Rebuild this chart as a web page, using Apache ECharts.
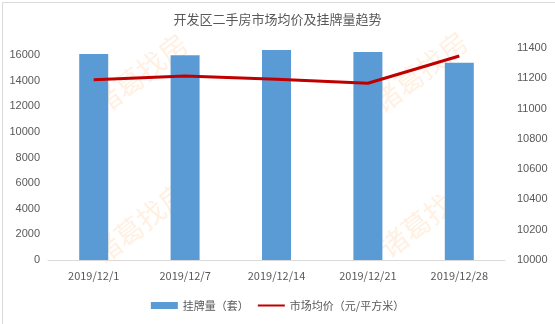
<!DOCTYPE html>
<html><head><meta charset="utf-8">
<script src="https://cdn.jsdelivr.net/npm/echarts@6/dist/echarts.min.js"></script>
<style>html,body{margin:0;padding:0;background:#fff}#c{width:555px;height:324px}</style>
</head><body><div id="c"></div>
<script>
const categories = ['2019/12/1','2019/12/7','2019/12/14','2019/12/21','2019/12/28'];
const listings = [16100, 16000, 16400, 16250, 15400];
const avgPrice = [11190, 11215, 11193, 11167, 11347];
const leftTicks = [0,2000,4000,6000,8000,10000,12000,14000,16000];
const rightTicks = [10000,10200,10400,10600,10800,11000,11200,11400];

const font = '"Microsoft YaHei","Noto Sans CJK SC",sans-serif';
const chart = echarts.init(document.getElementById('c'));
const wmPos = [[140,74],[420,72],[140,223],[427,217]];
chart.setOption({
  animation:false,
  title:{text:'开发区二手房市场均价及挂牌量趋势',left:'center',top:8,
    textStyle:{fontSize:13,fontWeight:'normal',color:'#595959',fontFamily:font}},
  graphic: [{type:'rect',left:0,top:0,z:-20,shape:{width:554,height:323},style:{fill:'none',stroke:'#d9d9d9',lineWidth:1}}]
    .concat(wmPos.map(p=>({type:'text',x:p[0],y:p[1],rotation:Math.PI*38/180,z:-10,
      style:{text:'诸葛找房',fill:'rgba(255,200,150,0.28)',font:'28px '+font,align:'center',verticalAlign:'middle'}}))),
  grid:{left:48,right:50,top:48,bottom:64},
  legend:{bottom:8,itemGap:8,itemWidth:27,itemHeight:7,
    textStyle:{fontSize:11,color:'#595959',fontFamily:font},
    data:[{name:'挂牌量（套）',icon:'rect'},{name:'市场均价（元/平方米）',itemStyle:{opacity:0}}]},
  xAxis:{type:'category',data:categories,
    axisLine:{lineStyle:{color:'#d9d9d9'}},axisTick:{show:false},
    axisLabel:{color:'#595959',fontSize:11,margin:10,fontFamily:font}},
  yAxis:[
    {type:'value',min:0,max:16560,interval:2000,splitLine:{show:false},
     axisLine:{show:false},axisTick:{show:false},
     axisLabel:{color:'#595959',fontSize:11,showMaxLabel:false,margin:8,
       formatter:v=>leftTicks.includes(v)?String(v):''}},
    {type:'value',min:10000,max:11400,interval:200,splitLine:{show:false},
     axisLine:{show:false},axisTick:{show:false},
     axisLabel:{color:'#595959',fontSize:11,margin:12,
       formatter:v=>rightTicks.includes(v)?String(v):''}}
  ],
  series:[
    {name:'挂牌量（套）',type:'bar',data:listings,barWidth:29,zlevel:1,
     itemStyle:{color:'#5b9bd5'}},
    {name:'市场均价（元/平方米）',type:'line',yAxisIndex:1,data:avgPrice,zlevel:1,z:3,
     symbol:'none',lineStyle:{color:'#c00000',width:3},itemStyle:{color:'#c00000'}}
  ]
});
</script></body></html>
